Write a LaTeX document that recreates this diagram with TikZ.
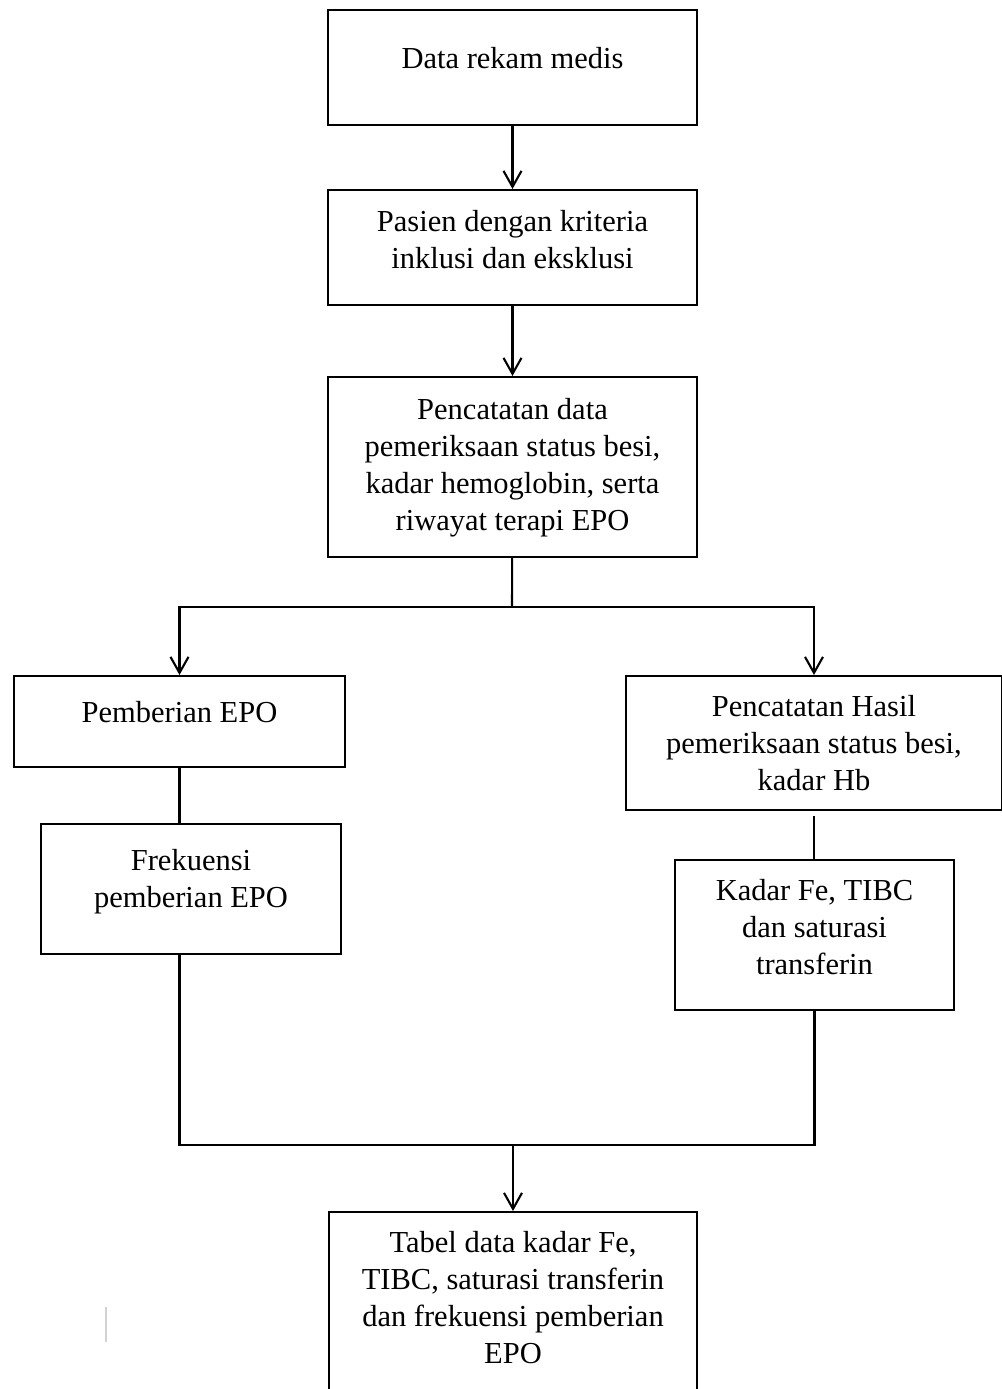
\documentclass[tikz,border=0pt]{standalone}
\usepackage{fontspec}
\setmainfont{Liberation Serif}
\usetikzlibrary{arrows.meta,positioning}
\tikzset{every picture/.style={line width=1pt}}
\tikzset{
  kotak/.style={draw, rectangle, inner sep=0pt},
  isi/.style={inner sep=0pt, align=center, anchor=north,
    font=\fontsize{15.25pt}{18.5pt}\selectfont},
  garis/.style={line width=1.05pt},
  panah/.style={garis, -{Straight Barb[length=8pt,width=9pt]}}
}

\begin{document}
\begin{tikzpicture}[x=0.5pt,y=-0.5pt]
    % batas gambar
    \useasboundingbox (0,0) rectangle (1002,1389);
    \clip (0,0) rectangle (1002,1389);

    % kotak alur utama
    \node[kotak, minimum width=184.5pt, minimum height=57.5pt] (rekam) at (512.5,67.5) {};
    \node[isi, below=18.5pt of rekam.north] (trekam) {Data rekam medis};

    \node[kotak, minimum width=184.5pt, minimum height=57.5pt] (pasien) at (512.5,247.5) {};
    \node[isi, below=10pt of pasien.north] (tpasien) {Pasien dengan kriteria\\inklusi dan eksklusi};

    \node[kotak, minimum width=184.5pt, minimum height=90pt] (catat) at (512.5,467) {};
    \node[isi, below=10.5pt of catat.north] (tcatat) {Pencatatan data\\pemeriksaan status besi,\\kadar hemoglobin, serta\\riwayat terapi EPO};

    % cabang kiri
    \node[kotak, minimum width=165.5pt, minimum height=45.5pt] (epo) at (179.5,721.5) {};
    \node[isi, below=12.5pt of epo.north] (tepo) {Pemberian EPO};

    \node[kotak, minimum width=150pt, minimum height=65pt] (frek) at (191,889) {};
    \node[isi, below=12.5pt of frek.north] (tfrek) {Frekuensi\\pemberian EPO};

    % cabang kanan
    \node[kotak, minimum width=188pt, minimum height=67pt] (hasil) at (814,743) {};
    \node[isi, below=9.5pt of hasil.north] (thasil) {Pencatatan Hasil\\pemeriksaan status besi,\\kadar Hb};

    \node[kotak, minimum width=139.5pt, minimum height=75pt] (kadar) at (814.5,935) {};
    \node[isi, below=9.5pt of kadar.north] (tkadar) {Kadar Fe, TIBC\\dan saturasi\\transferin};

    % kotak akhir
    \node[kotak, minimum width=184pt, minimum height=124pt] (tabel) at (513,1336) {};
    \node[isi, below=9.5pt of tabel.north] (ttabel) {Tabel data kadar Fe,\\TIBC, saturasi transferin\\dan frekuensi pemberian\\EPO};

    % titik percabangan
    \coordinate (cabang) at (512,607);
    \coordinate (gabung) at (513,1145);

    % garis penghubung
    \draw[panah] (rekam) -- (pasien);
    \draw[panah] (pasien) -- (catat);
    \draw[garis] (catat) -- (cabang);
    \draw[panah] (cabang) -| (epo);
    \draw[panah] (cabang) -| (hasil);
    \draw[garis] (epo.south) -- (epo.south |- frek.north);
    \draw[garis] ([yshift=-2.5pt]hasil.south) -- (hasil.south |- kadar.north);
    \draw[garis] (epo.south |- frek.south) -- (epo.south |- gabung) -- (kadar.south |- gabung) -- (kadar.south);
    \draw[panah] (gabung) -- (tabel);

    % goresan tipis di kiri bawah
    \draw[gray!35, line width=0.6pt] (106,1307) -- (106,1342);
\end{tikzpicture}
\end{document}
